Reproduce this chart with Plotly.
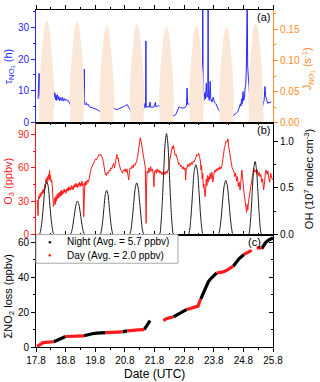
import plotly.graph_objects as go

# ---------------- data ----------------
# J_NO3 (s-1) diurnal curves
j_time = [17.90, 17.915, 17.95, 18.035, 18.095, 18.165, 18.235, 18.295, 18.38, 18.415, 18.43,
          18.92, 18.935, 18.97, 19.055, 19.115, 19.185, 19.255, 19.315, 19.40, 19.435, 19.45,
          19.925, 19.94, 19.975, 20.06, 20.12, 20.19, 20.26, 20.32, 20.405, 20.44, 20.455,
          20.945, 20.96, 20.995, 21.08, 21.14, 21.21, 21.28, 21.34, 21.425, 21.46, 21.475,
          21.94, 21.955, 21.99, 22.075, 22.135, 22.205, 22.275, 22.335, 22.42, 22.455, 22.47,
          22.955, 22.97, 23.005, 23.09, 23.15, 23.22, 23.29, 23.35, 23.435, 23.47, 23.485,
          23.965, 23.98, 24.015, 24.10, 24.16, 24.23, 24.30, 24.36, 24.445, 24.48, 24.495,
          24.95, 24.965, 25.00, 25.085, 25.145, 25.215, 25.285, 25.345, 25.43, 25.465, 25.48]
j_val = [0, 0.041, 0.083, 0.132, 0.157, 0.165, 0.157, 0.132, 0.083, 0.041, 0,
         0, 0.041, 0.082, 0.130, 0.155, 0.163, 0.155, 0.130, 0.082, 0.041, 0,
         0, 0.039, 0.078, 0.125, 0.148, 0.156, 0.148, 0.125, 0.078, 0.039, 0,
         0, 0.040, 0.080, 0.127, 0.151, 0.159, 0.151, 0.127, 0.080, 0.040, 0,
         0, 0.039, 0.078, 0.124, 0.147, 0.155, 0.147, 0.124, 0.078, 0.039, 0,
         0, 0.039, 0.078, 0.125, 0.148, 0.156, 0.148, 0.125, 0.078, 0.039, 0,
         0, 0.039, 0.077, 0.123, 0.146, 0.154, 0.146, 0.123, 0.077, 0.039, 0,
         0, 0.040, 0.081, 0.129, 0.153, 0.161, 0.153, 0.129, 0.081, 0.040, 0]

# tau_NO3 (h)
tau_time = [17.87, 17.88, 17.895, 17.905, 17.915, 17.94, 17.97, 18.00, 18.05, 18.10, 18.16, 18.22, 18.27,
            18.32, 18.36, 18.38, 18.40, 18.42, 18.44, 18.46, 18.48, 18.50, 18.52, 18.55, 18.57, 18.60,
            18.63, 18.66, 18.69, 18.72, 18.75, 18.78, 18.81, 18.85, 18.89, 18.95, 19.00, 19.06, 19.12,
            19.18, 19.23, 19.30, 19.36, 19.41, 19.42, 19.43, 19.44, 19.47, 19.50, 19.53, 19.56, 19.60,
            19.68, 19.76, 19.85, 19.92, 19.98, 20.05, 20.13, 20.20, 20.26, 20.30, 20.36, 20.41, 20.46,
            20.52, 20.58, 20.65, 20.70, 20.76, 20.82, 20.88, 20.93, 20.98, 21.04, 21.10, 21.18, 21.26,
            21.33, 21.38, 21.43, 21.47, 21.49, 21.50, 21.51, 21.52, 21.55, 21.58, 21.62, 21.65, 21.67,
            21.72, 21.78, 21.83, 21.85, 21.90, 21.95, 21.99, 22.05, 22.10, 22.16, 22.22, 22.30, 22.38,
            22.46, 22.52, 22.58, 22.63, 22.68, 22.75, 22.82, 22.88, 22.90, 22.92, 22.96, 23.02, 23.08,
            23.14, 23.20, 23.26, 23.30, 23.34, 23.37, 23.40, 23.42, 23.43, 23.44, 23.47, 23.50, 23.52,
            23.55, 23.57, 23.60, 23.61, 23.62, 23.65, 23.68, 23.70, 23.74, 23.78, 23.82, 23.87, 23.92,
            23.96, 24.02, 24.10, 24.18, 24.26, 24.34, 24.42, 24.48, 24.55, 24.62, 24.66, 24.70, 24.72,
            24.74, 24.76, 24.79, 24.81, 24.84, 24.86, 24.88, 24.90, 24.91, 24.93, 24.945, 24.96, 24.99,
            25.02, 25.07, 25.12, 25.19, 25.27, 25.36, 25.42, 25.47, 25.50, 25.53, 25.55, 25.59, 25.63,
            25.67, 25.70, 25.73]
tau_val = [7.5, 10.0, 8.0, 15.5, 9.0, 7.5, 6.5, 5.5, 4.1, 3.2, 2.8, 2.7, 2.9,
           3.8, 5.0, 5.8, 9.8, 8.0, 9.3, 7.2, 8.6, 7.0, 8.8, 7.3, 8.2, 6.9,
           7.9, 7.0, 8.0, 6.8, 7.6, 7.0, 7.4, 6.9, 7.0, 5.8, 5.0, 4.3, 3.9,
           3.8, 3.9, 4.4, 5.2, 6.0, 6.5, 16.8, 6.0, 5.6, 6.3, 5.5, 5.8, 5.0,
           4.8, 4.5, 4.2, 3.8, 3.4, 3.1, 3.0, 3.2, 3.6, 3.8, 4.4, 4.8, 4.3,
           4.1, 4.3, 4.7, 5.0, 5.1, 5.4, 5.7, 4.8, 4.0, 3.3, 2.9, 2.7, 2.7,
           3.0, 3.4, 4.2, 5.5, 6.3, 4.8, 25.7, 5.5, 4.8, 5.2, 4.8, 6.5, 4.9,
           5.0, 4.9, 6.4, 5.0, 5.2, 5.4, 5.2, 4.5, 3.8, 3.0, 2.5, 2.2, 2.1,
           2.2, 2.6, 4.0, 5.0, 4.8, 4.6, 4.7, 5.5, 10.9, 5.8, 5.9, 6.0, 5.9,
           6.2, 5.8, 6.5, 7.0, 6.0, 8.5, 7.0, 9.5, 40.0, 8.0, 7.0, 9.5, 7.5,
           12.4, 8.0, 9.0, 40.0, 8.5, 7.0, 13.0, 7.5, 6.5, 8.0, 6.5, 6.0, 5.0,
           4.1, 3.5, 2.8, 2.4, 2.2, 2.0, 2.1, 2.4, 2.9, 3.6, 4.5, 6.0, 5.2,
           7.5, 6.0, 9.8, 7.0, 8.0, 11.0, 12.0, 17.0, 21.7, 40.0, 18.0, 13.4, 10.5,
           8.3, 6.0, 4.5, 3.6, 3.2, 3.1, 3.8, 6.0, 7.0, 11.4, 8.5, 7.2, 6.0,
           6.5, 6.2, 6.7]

# O3 (ppbv)
o3_time = [17.84, 17.85, 17.86, 17.87, 17.88, 17.90, 17.92, 17.94, 17.96, 17.98, 18.00, 18.02, 18.04,
           18.06, 18.08, 18.10, 18.12, 18.14, 18.16, 18.18, 18.20, 18.22, 18.24, 18.26, 18.27, 18.29,
           18.31, 18.33, 18.35, 18.37, 18.39, 18.41, 18.43, 18.45, 18.47, 18.49, 18.51, 18.53, 18.55,
           18.57, 18.59, 18.61, 18.63, 18.65, 18.67, 18.69, 18.71, 18.73, 18.75, 18.77, 18.79, 18.81,
           18.83, 18.85, 18.87, 18.89, 18.91, 18.93, 18.95, 18.97, 18.99, 19.01, 19.03, 19.05, 19.07,
           19.09, 19.11, 19.13, 19.15, 19.17, 19.19, 19.21, 19.23, 19.25, 19.27, 19.29, 19.31, 19.33,
           19.35, 19.37, 19.39, 19.41, 19.43, 19.45, 19.47, 19.49, 19.51, 19.54, 19.57, 19.60, 19.63,
           19.66, 19.69, 19.72, 19.75, 19.78, 19.81, 19.84, 19.87, 19.90, 19.93, 19.96, 19.99, 20.02,
           20.05, 20.08, 20.10, 20.12, 20.14, 20.16, 20.18, 20.21, 20.24, 20.27, 20.30, 20.33, 20.36,
           20.39, 20.42, 20.45, 20.48, 20.51, 20.53, 20.55, 20.57, 20.60, 20.63, 20.66, 20.69, 20.72,
           20.75, 20.78, 20.81, 20.84, 20.87, 20.90, 20.93, 20.96, 20.99, 21.02, 21.05, 21.08, 21.11,
           21.14, 21.17, 21.20, 21.23, 21.26, 21.29, 21.32, 21.34, 21.37, 21.40, 21.43, 21.46, 21.49,
           21.51, 21.52, 21.53, 21.55, 21.58, 21.61, 21.64, 21.67, 21.70, 21.73, 21.76, 21.78, 21.80,
           21.83, 21.86, 21.89, 21.92, 21.95, 21.98, 22.01, 22.04, 22.07, 22.10, 22.13, 22.16, 22.19,
           22.22, 22.25, 22.28, 22.31, 22.34, 22.37, 22.40, 22.42, 22.44, 22.47, 22.50, 22.53, 22.56,
           22.59, 22.62, 22.65, 22.68, 22.71, 22.74, 22.77, 22.80, 22.83, 22.85, 22.87, 22.90, 22.93,
           22.96, 22.99, 23.02, 23.05, 23.08, 23.11, 23.14, 23.17, 23.20, 23.23, 23.26, 23.29, 23.32,
           23.35, 23.37, 23.39, 23.41, 23.43, 23.45, 23.47, 23.49, 23.51, 23.53, 23.55, 23.57, 23.59,
           23.61, 23.63, 23.65, 23.68, 23.71, 23.74, 23.77, 23.80, 23.83, 23.86, 23.89, 23.92, 23.95,
           23.98, 24.01, 24.04, 24.07, 24.10, 24.13, 24.16, 24.19, 24.22, 24.25, 24.28, 24.30, 24.33,
           24.36, 24.39, 24.42, 24.45, 24.48, 24.51, 24.54, 24.57, 24.60, 24.63, 24.66, 24.69, 24.72,
           24.75, 24.77, 24.80, 24.83, 24.86, 24.89, 24.91, 24.93, 24.95, 24.97, 25.00, 25.03, 25.06,
           25.09, 25.12, 25.15, 25.18, 25.21, 25.24, 25.27, 25.30, 25.33, 25.36, 25.39, 25.42, 25.45,
           25.48, 25.51, 25.54, 25.57, 25.60, 25.63, 25.66, 25.69, 25.72, 25.75, 25.78]
o3_val = [31, 20, 26, 17, 30, 35, 32, 37, 34, 38, 36, 40, 37,
          41, 39, 45, 42, 50, 46, 52, 48, 54, 50, 57.5, 49, 53,
          47, 49, 44, 30, 25, 28, 33, 27, 34, 30, 36, 32, 37,
          33, 38, 34, 39, 35, 40, 36, 39, 37, 41, 38, 40, 37,
          41, 39, 42, 39, 43, 40, 42, 40, 44, 41, 43, 40, 44,
          42, 45, 43, 46, 43, 45, 42, 46, 44, 47, 43, 46, 44,
          48, 44, 46, 16, 42, 47, 44, 48, 45, 49, 47, 52, 56,
          59, 61, 63, 65, 66, 68, 67, 69, 71, 72, 71, 72, 70,
          68, 64, 60, 57, 54, 55, 53, 56, 55, 58, 57, 60, 59,
          62, 64, 60, 66, 71, 72, 68, 69, 64, 60, 58, 57, 55,
          58, 57, 59, 56, 59, 55, 49, 58, 60, 59, 62, 60, 63,
          62, 64, 66, 70, 77, 82, 87, 85, 80, 76, 70, 64, 60,
          25, 10, 40, 57, 55, 60, 56, 61, 57, 59, 54, 43, 56,
          58, 55, 59, 56, 58, 55, 57, 54, 56, 53, 56, 54, 57,
          55, 58, 60, 66, 72, 76, 79, 77, 80, 75, 71, 72, 69,
          66, 63, 64, 61, 62, 59, 61, 58, 60, 49, 58, 60, 63,
          61, 64, 62, 65, 63, 66, 65, 68, 70, 72, 71, 73, 70,
          66, 58, 62, 50, 55, 42, 45, 38, 34, 42, 50, 44, 53,
          47, 52, 49, 55, 50, 56, 47, 55, 58, 56, 59, 57, 60,
          58, 61, 59, 61, 66, 74, 78, 81, 84, 83, 86, 80, 75,
          68, 63, 60, 58, 57, 52, 55, 48, 52, 43, 47, 40, 50,
          58, 52, 40, 36, 30, 25, 20, 27, 22, 29, 35, 41, 45,
          50, 55, 60, 56, 58, 55, 58, 53, 56, 52, 54, 47, 50,
          40, 45, 55, 58, 54, 57, 50, 47, 55, 50, 49]

# OH (1e7 molec cm-3)
oh_time = [17.80, 17.91, 17.96, 18.01, 18.06, 18.11, 18.16, 18.21, 18.26, 18.31, 18.36, 18.41,
           18.95, 19.00, 19.05, 19.10, 19.15, 19.20, 19.25, 19.30, 19.35, 19.40, 19.45,
           19.96, 20.005, 20.05, 20.095, 20.14, 20.185, 20.23, 20.275, 20.32, 20.365, 20.41,
           20.95, 21.00, 21.05, 21.10, 21.15, 21.20, 21.25, 21.30, 21.35, 21.40, 21.45,
           21.96, 22.01, 22.06, 22.11, 22.16, 22.205, 22.25, 22.30, 22.35, 22.40, 22.45,
           22.94, 22.99, 23.04, 23.09, 23.14, 23.195, 23.25, 23.30, 23.35, 23.40, 23.45,
           23.95, 24.00, 24.05, 24.10, 24.15, 24.205, 24.26, 24.31, 24.36, 24.41, 24.46,
           24.97, 25.015, 25.06, 25.105, 25.15, 25.195, 25.24, 25.285, 25.33, 25.375, 25.42, 25.80]
oh_val = [0, 0, 0.05, 0.17, 0.35, 0.52, 0.57, 0.52, 0.35, 0.17, 0.05, 0,
          0, 0.03, 0.11, 0.22, 0.32, 0.36, 0.32, 0.22, 0.11, 0.03, 0,
          0, 0.04, 0.14, 0.29, 0.43, 0.475, 0.43, 0.29, 0.14, 0.04, 0,
          0, 0.04, 0.17, 0.34, 0.50, 0.555, 0.50, 0.34, 0.17, 0.04, 0,
          0, 0.09, 0.33, 0.67, 0.98, 1.085, 0.98, 0.67, 0.33, 0.09, 0,
          0, 0.06, 0.23, 0.47, 0.68, 0.75, 0.68, 0.47, 0.23, 0.06, 0,
          0, 0.05, 0.18, 0.36, 0.52, 0.58, 0.52, 0.36, 0.18, 0.05, 0,
          0, 0.06, 0.24, 0.49, 0.71, 0.785, 0.71, 0.49, 0.24, 0.06, 0, 0]

# Cumulative NO2 loss (ppbv); None separates segments
night_time = [18.40, 18.50, 18.60, 18.70, 18.80, None,
              19.42, 19.55, 19.70, 19.85, 20.00, 20.15, None,
              20.72, 20.80, 20.88, None,
              21.45, 21.50, 21.55, 21.60, 21.65, None,
              22.44, 22.55, 22.65, 22.78, 22.89, None,
              23.36, 23.45, 23.53, 23.62, 23.72, 23.82, 23.90, None,
              24.46, 24.55, 24.65, 24.75, 24.82, None,
              25.42, 25.48, 25.55, 25.65, 25.80]
night_loss = [3.0, 3.8, 4.8, 5.6, 6.0, None,
              6.4, 7.1, 7.6, 7.9, 8.0, 8.2, None,
              8.7, 9.0, 9.2, None,
              10.0, 11.5, 13.0, 14.3, 15.1, None,
              17.2, 18.3, 19.6, 20.5, 21.5, None,
              27.4, 31.0, 34.5, 37.5, 39.5, 41.5, 42.4, None,
              46.3, 48.5, 50.5, 52.0, 53.0, None,
              56.3, 58.0, 59.8, 61.2, 62.5]
day_time = [17.84, 17.90, 17.96, 18.02, 18.12, 18.25, 18.40, None,
            18.80, 18.95, 19.10, 19.25, 19.42, None,
            20.15, 20.35, 20.55, 20.72, None,
            20.88, 21.05, 21.25, 21.45, None,
            22.10, 22.20, 22.30, 22.44, None,
            22.89, 23.00, 23.15, 23.27, 23.31, 23.36, None,
            23.90, 24.00, 24.12, 24.25, 24.35, 24.46, None,
            24.82, 24.95, 25.08, None,
            25.25, 25.35, 25.42]
day_loss = [0.3, 1.0, 2.0, 2.4, 2.6, 2.8, 3.0, None,
            6.0, 6.1, 6.1, 6.2, 6.4, None,
            8.2, 8.3, 8.5, 8.7, None,
            9.2, 9.6, 9.8, 10.0, None,
            15.1, 16.2, 16.7, 17.2, None,
            21.5, 22.0, 22.8, 23.4, 25.5, 27.4, None,
            42.4, 42.5, 43.0, 44.0, 45.0, 46.3, None,
            53.0, 54.3, 55.3, None,
            56.8, 56.9, 56.3]

x_ticks = [17.8, 18.8, 19.8, 20.8, 21.8, 22.8, 23.8, 24.8, 25.8]
legend_names = ["Night (Avg. = 5.7 ppbv)", "Day (Avg. = 2.0 ppbv)"]

# ---------------- style ----------------
FONT = "Arial, Liberation Sans, sans-serif"
BLUE = "rgb(40,40,255)"
ORANGE = "rgb(255,140,40)"
RED = "rgb(255,25,25)"
PEACH = "rgb(251,231,216)"
BLACK = "black"

dom_a = [0.6654, 1.0]
dom_b = [0.3337, 0.6654]
dom_c = [0.0, 0.3337]

fig = go.Figure()

fig.add_trace(go.Scatter(x=j_time, y=j_val, xaxis="x", yaxis="y2", mode="lines",
                         line=dict(width=0, shape="spline", smoothing=0.7, color=PEACH),
                         fill="tozeroy", fillcolor=PEACH, showlegend=False, hoverinfo="skip"))
fig.add_trace(go.Scatter(x=tau_time, y=tau_val, xaxis="x", yaxis="y", mode="lines",
                         line=dict(width=1, color=BLUE), showlegend=False))
fig.add_trace(go.Scatter(x=oh_time, y=oh_val, xaxis="x2", yaxis="y4", mode="lines",
                         line=dict(width=1, color="rgb(30,30,30)", shape="spline", smoothing=0.8),
                         showlegend=False))
fig.add_trace(go.Scatter(x=o3_time, y=o3_val, xaxis="x2", yaxis="y3", mode="lines",
                         line=dict(width=1, color=RED), showlegend=False))
fig.add_trace(go.Scatter(x=night_time, y=night_loss, xaxis="x3", yaxis="y5", mode="lines",
                         line=dict(width=3.2, color=BLACK), name=legend_names[0], showlegend=False))
fig.add_trace(go.Scatter(x=day_time, y=day_loss, xaxis="x3", yaxis="y5", mode="lines",
                         line=dict(width=3.2, color=RED), name=legend_names[1], showlegend=False))
# invisible trace to activate the mirrored right axis of panel (c)
fig.add_trace(go.Scatter(x=[None], y=[None], xaxis="x3", yaxis="y6", showlegend=False))


def xax(anchor, show_labels, ticks, mirror, side="bottom"):
    return dict(range=[17.8, 25.8], tickvals=x_ticks, ticktext=[f"{v:.1f}" for v in x_ticks],
                ticks=ticks, ticklen=4, tickwidth=1, tickcolor=BLACK, showline=True,
                linecolor=BLACK, linewidth=1, mirror=mirror, showgrid=False, zeroline=False,
                showticklabels=show_labels, anchor=anchor, side=side,
                minor=dict(dtick=0.5, tick0=17.8, ticks=ticks, ticklen=2, tickcolor=BLACK),
                tickfont=dict(family=FONT, size=10, color=BLACK))


def yax(color, rng, dtick, minor, **kw):
    d = dict(range=rng, dtick=dtick, ticks="outside", ticklen=4, tickcolor=color, showline=True,
             linecolor=color, linewidth=1, showgrid=False, zeroline=False,
             tickfont=dict(family=FONT, size=10, color=color),
             minor=dict(dtick=minor, ticks="outside", ticklen=2, tickcolor=color))
    d.update(kw)
    return d


fig.update_layout(
    width=320, height=382,
    margin=dict(l=36, r=47, t=6, b=35),
    paper_bgcolor="white", plot_bgcolor="rgba(0,0,0,0)",
    font=dict(family=FONT, size=10, color=BLACK),
    showlegend=False,
    xaxis=xax("y", False, "outside", True, side="top"),
    xaxis2=dict(xax("y3", False, "inside", "ticks"), matches="x"),
    xaxis3=dict(xax("y5", True, "outside", True), matches="x"),
    yaxis=yax(BLUE, [0, 35.4], 10, 5, domain=dom_a, anchor="x"),
    yaxis2=yax(ORANGE, [0, 0.181], 0.05, 0.025, overlaying="y", side="right", anchor="x",
               tickformat=".2f"),
    yaxis3=yax(RED, [0, 100.4], 30, 15, domain=dom_b, anchor="x2"),
    yaxis4=yax(BLACK, [0, 1.2], 0.5, 0.25, overlaying="y3", side="right", anchor="x2",
               tickformat=".1f"),
    yaxis5=yax(BLACK, [0, 64.4], 20, 10, domain=dom_c, anchor="x3"),
    yaxis6=dict(overlaying="y5", side="right", anchor="x3", range=[0, 64.4], dtick=20,
                ticks="inside", ticklen=4, tickcolor=BLACK, showline=True, linecolor=BLACK,
                linewidth=1, showgrid=False, zeroline=False, showticklabels=False,
                minor=dict(dtick=10, ticks="inside", ticklen=2, tickcolor=BLACK)),
)

ann = []


def title(text, x, xshift, y, color, yshift=0, angle=-90, size=11):
    ann.append(dict(text=text, x=x, y=y, xref="paper", yref="paper", xshift=xshift,
                    yshift=yshift, textangle=angle, showarrow=False, xanchor="center",
                    yanchor="middle", font=dict(family=FONT, size=size, color=color)))


title("τ<sub>NO₃</sub> (h)", 0, -27, 0.833, BLUE)
title("J<sub>NO₃</sub> (s<sup>-1</sup>)", 1, 35, 0.824, ORANGE)
title("O<sub>3</sub> (ppbv)", 0, -27, 0.49, RED)
title("OH (10<sup>7</sup> molec cm<sup>-3</sup>)", 1, 36, 0.498, BLACK)
title("ΣNO<sub>2</sub> loss (ppbv)", 0, -27, 0.15, BLACK)
title("Date (UTC)", 0.498, 0, 0, BLACK, yshift=-27, angle=0, size=12)

for lab, ytop, xs in [("(a)", dom_a[1], -1), ("(b)", dom_b[1], -1), ("(c)", dom_c[1], -10)]:
    ann.append(dict(text=lab, x=1, y=ytop, xref="paper", yref="paper", xanchor="right",
                    yanchor="top", xshift=xs, yshift=1, showarrow=False,
                    font=dict(family=FONT, size=11, color=BLACK)))

# legend drawn as box + text rows (compact spacing like the reference)
leg_top, leg_bot, leg_right = dom_c[1], 0.2486, 0.599
shapes = [dict(type="rect", xref="paper", yref="paper", x0=0, x1=leg_right, y0=leg_bot,
               y1=leg_top, line=dict(color="rgb(170,170,170)", width=1), fillcolor="white",
               layer="above")]
for name, color, yrow in [(legend_names[0], BLACK, 0.313), (legend_names[1], RED, 0.272)]:
    ann.append(dict(text="●", x=0.059, y=yrow, xref="paper", yref="paper", xanchor="center",
                    yanchor="middle", showarrow=False,
                    font=dict(family=FONT, size=6, color=color)))
    ann.append(dict(text=name, x=0.122, y=yrow, xref="paper", yref="paper", xanchor="left",
                    yanchor="middle", showarrow=False,
                    font=dict(family=FONT, size=10, color=BLACK)))

fig.update_layout(annotations=ann, shapes=shapes)
fig.write_html("out.html", config={"displayModeBar": False},
               post_script="document.body.style.margin='0';")
